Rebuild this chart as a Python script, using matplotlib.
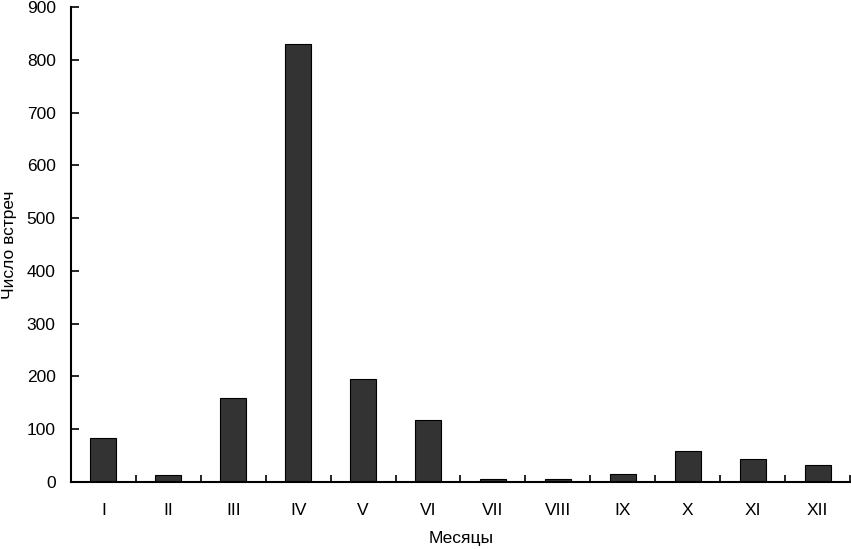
import matplotlib
matplotlib.use("Agg")
import matplotlib.pyplot as plt
import numpy as np

months = ["I", "II", "III", "IV", "V", "VI", "VII", "VIII", "IX", "X", "XI", "XII"]
counts = [84, 13, 160, 830, 196, 118, 5, 5, 16, 59, 44, 33]
yticks = [0, 100, 200, 300, 400, 500, 600, 700, 800, 900]

plt.rcParams['font.family'] = ['Liberation Sans', 'DejaVu Sans']

W, H = 851, 549
fig = plt.figure(figsize=(W / 100, H / 100), dpi=100)
ax = fig.add_axes([71 / W, 1 - 482 / H, (850 - 71) / W, (482 - 7) / H])

x = np.arange(len(months))
ax.bar(x, counts, width=0.4, color="#333333", edgecolor="black", linewidth=0.8)

ax.set_xlim(-0.5, len(months) - 0.5)
ax.set_ylim(0, 900)
ax.set_yticks(yticks)
ax.set_xticks(x)
ax.set_xticklabels(months, fontsize=12.5)
ax.set_xticks(np.arange(len(months) + 1) - 0.5, minor=True)
ax.tick_params(axis='x', which='major', length=0, pad=15)
ax.tick_params(axis='x', which='minor', direction='in', length=5, width=1.2)
ax.tick_params(axis='y', direction='in', length=6, width=1.2, labelsize=12.5, pad=11)

for s in ["top", "right"]:
    ax.spines[s].set_visible(False)
for s in ["left", "bottom"]:
    ax.spines[s].set_linewidth(1.5)

fig.text(461 / W, 1 - 539 / H, "Месяцы", fontsize=12.5, ha="center", va="center")
fig.text(10 / W, 1 - 245 / H, "Число встреч", fontsize=12.5, ha="center", va="center",
         rotation=90)

fig.savefig("out.png", dpi=100)
